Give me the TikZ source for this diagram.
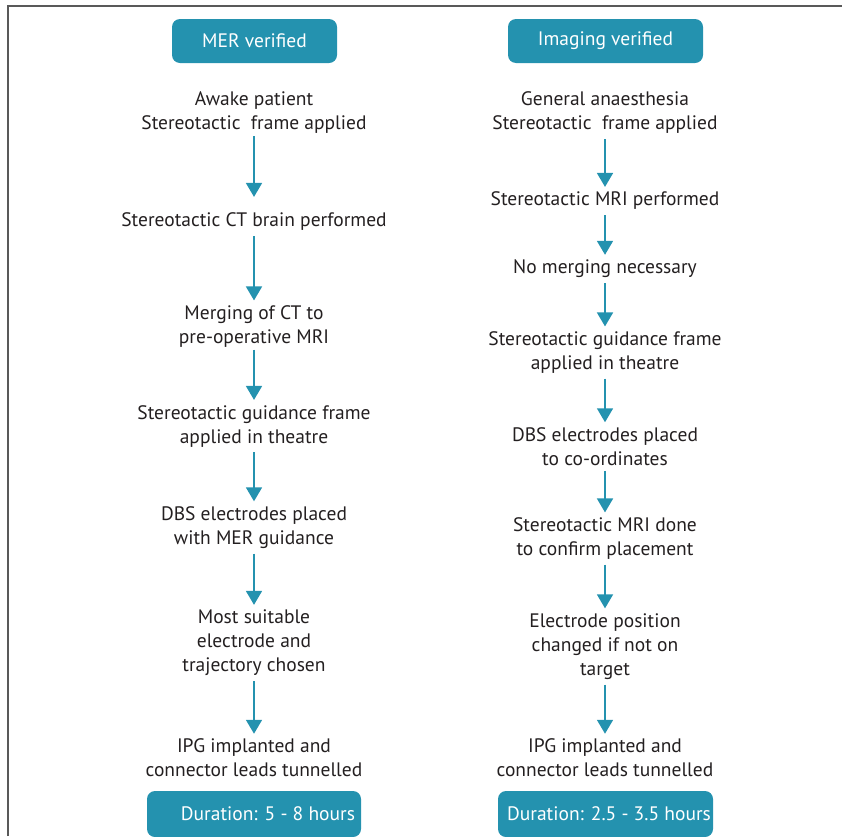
\documentclass[tikz,border=0pt]{standalone}
\usepackage{fontspec}
\setmainfont{PT Sans}
\usetikzlibrary{arrows.meta}
\definecolor{merblue}{RGB}{36,146,175}
\definecolor{inkgray}{RGB}{35,31,32}
\tikzstyle{header} = [rectangle, rounded corners=8pt, minimum height=44pt, fill=merblue, text=white, inner sep=0pt]
\tikzstyle{stage} = [align=center, text=inkgray, inner sep=2pt]
\tikzstyle{arrow} = [-{Triangle[width=16pt,length=14pt]}, line width=1.8pt, draw=merblue, shorten <=3pt, shorten >=3pt]

\begin{document}
\begin{tikzpicture}[x=1pt,y=-1pt,font=\fontsize{19.5}{24}\selectfont]
	\useasboundingbox (0,0) rectangle (842,836);
	\draw[line width=1.5pt, draw=black!65] (8,836) -- (8,6) -- (842,6);
	% MER verified
	\node (MER) [header, minimum width=165pt] at (254.5,41) {MER verified};
	\node (L1) [stage] at (254,113) {Awake patient\\Stereotactic~ frame applied};
	\node (L2) [stage] at (254,222) {Stereotactic CT brain performed};
	\node (L3) [stage] at (254,326.5) {Merging of CT to\\pre-operative MRI};
	\node (L4) [stage] at (254,426) {Stereotactic guidance frame\\applied in theatre};
	\node (L5) [stage] at (254,527.5) {DBS electrodes placed\\with MER guidance};
	\node (L6) [stage] at (254,643) {Most suitable\\electrode and\\trajectory chosen};
	\node (L7) [stage] at (254,758) {IPG implanted and\\connector leads tunnelled};
	\node (LD) [header, minimum width=214pt, minimum height=46pt] at (254,814) {\hspace*{28pt}Duration: 5 - 8 hours};
	% Imaging verified
	\node (IMG) [header, minimum width=195pt] at (605.5,41) {Imaging verified};
	\node (R1) [stage] at (605,113) {General anaesthesia\\Stereotactic~ frame applied};
	\node (R2) [stage] at (605,201) {Stereotactic MRI performed};
	\node (R3) [stage] at (605,269) {No merging necessary};
	\node (R4) [stage] at (605,352.5) {Stereotactic guidance frame\\applied in theatre};
	\node (R5) [stage] at (605,446.5) {DBS electrodes placed\\to co-ordinates};
	\node (R6) [stage] at (605,538.5) {Stereotactic MRI done\\to confirm placement};
	\node (R7) [stage] at (605,646.5) {Electrode position\\changed if not on\\target};
	\node (R8) [stage] at (605,758) {IPG implanted and\\connector leads tunnelled};
	\node (RD) [header, minimum width=215pt, minimum height=46pt] at (605.5,814) {\hspace*{7pt}Duration: 2.5 - 3.5 hours};
	\draw [arrow, shorten <=0pt, shorten >=14pt] (L1) -- (L2);
	\draw [arrow] (L2) -- (L3);
	\draw [arrow, shorten <=0pt] (L3) -- (L4);
	\draw [arrow] (L4) -- (L5);
	\draw [arrow] (L5) -- (L6);
	\draw [arrow] (L6) -- (L7);
	\draw [arrow] (R1) -- (R2);
	\draw [arrow] (R2) -- (R3);
	\draw [arrow] (R3) -- (R4);
	\draw [arrow] (R4) -- (R5);
	\draw [arrow] (R5) -- (R6);
	\draw [arrow] (R6) -- (R7);
	\draw [arrow] (R7) -- (R8);
\end{tikzpicture}
\end{document}
